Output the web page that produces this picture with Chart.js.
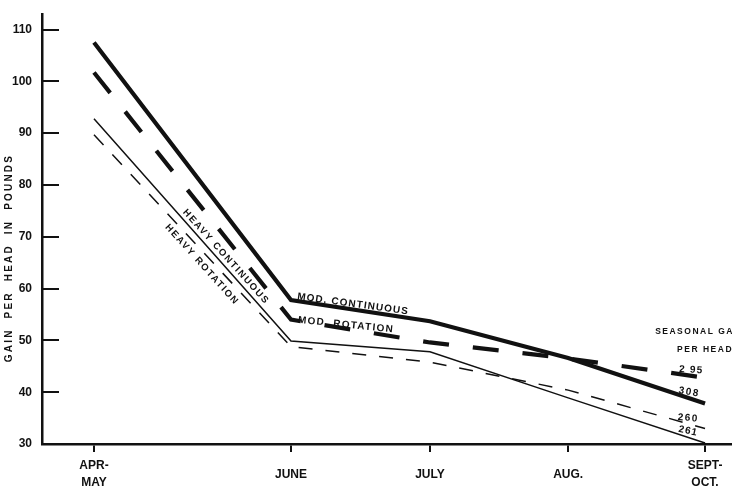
<!DOCTYPE html>
<html>
<head>
<meta charset="utf-8">
<script src="https://cdn.jsdelivr.net/npm/chart.js@4.4.0/dist/chart.umd.min.js"></script>
<style>
  html, body { margin: 0; padding: 0; background: #fff; overflow: hidden; }
  canvas { display: block; }
</style>
</head>
<body>
<canvas id="grafik" width="732" height="496"></canvas>
<script>
// periods along the grazing season, and where each sits on the time axis
const months = [["APR-", "MAY"], "JUNE", "JULY", "AUG.", ["SEPT-", "OCT."]];
const monthPos = [0, 1.425, 2.43, 3.43, 4.42];
const yTicks = [30, 40, 50, 60, 70, 80, 90, 100, 110];

// gain per head in pounds
const modContinuous = [107.5, 57.8, 53.7, 46.6, 37.8];
const modRotation = [101.7, 54.0, 49.6, 46.5, 42.8];
const heavyContinuous = [92.8, 49.9, 47.8, 38.9, 30.2];
const heavyRotation = [89.7, 48.8, 45.8, 40.4, 33.0];

// seasonal gain per head, written at the end of each line
const seasonal = ["2 95", "308", "260", "261"];

const INK = "#111";
const FONT = '"Liberation Sans", Arial, sans-serif';

const pts = (vals) => vals.map((v, i) => ({ x: monthPos[i], y: v }));

// text labels placed in data units: [text, x, y, angle, size, spacing, align]
const notes = [
  ["HEAVY CONTINUOUS", 0.955, 66.1, 48, 9.5, 1.6, "center"],
  ["HEAVY ROTATION", 0.781, 64.6, 48, 9.5, 1.6, "center"],
  ["MOD. CONTINUOUS", 1.874, 57.0, 7.8, 10, 1.1, "center"],
  ["MOD. ROTATION", 1.823, 53.0, 5.8, 10, 1.3, "center"],
  ["SEASONAL GAIN", 4.059, 51.6, 0, 8.5, 1.5, "left"],
  ["PER HEAD", 4.218, 48.2, 0, 8.5, 1.5, "left"],
  [seasonal[0], 4.32, 44.3, 3, 10, 1.2, "center"],
  [seasonal[1], 4.305, 40.0, 10, 10, 1.5, "center"],
  [seasonal[2], 4.298, 35.0, 5, 10, 1.5, "center"],
  [seasonal[3], 4.298, 32.5, 12, 10, 1.0, "center"],
];

const notesPlugin = {
  id: "notes",
  afterDraw(chart) {
    const { ctx, scales: { x, y }, chartArea } = chart;
    ctx.save();
    // inner tick marks on the value axis
    ctx.strokeStyle = INK;
    ctx.lineWidth = 2;
    yTicks.forEach((t) => {
      const py = Math.round(y.getPixelForValue(t));
      ctx.beginPath();
      ctx.moveTo(chartArea.left, py);
      ctx.lineTo(chartArea.left + 17, py);
      ctx.stroke();
    });

    ctx.fillStyle = INK;
    ctx.textBaseline = "middle";
    notes.forEach(([txt, xv, yv, ang, size, sp, align]) => {
      ctx.save();
      ctx.translate(x.getPixelForValue(xv), y.getPixelForValue(yv));
      ctx.rotate((ang * Math.PI) / 180);
      ctx.font = `bold ${size}px ${FONT}`;
      ctx.letterSpacing = sp + "px";
      ctx.textAlign = align;
      ctx.fillText(txt, 0, 0);
      ctx.restore();
    });

    // axis title
    ctx.save();
    ctx.translate(9, 258);
    ctx.rotate(-Math.PI / 2);
    ctx.font = `bold 10px ${FONT}`;
    ctx.letterSpacing = "2.2px";
    ctx.textAlign = "center";
    ctx.fillText("GAIN  PER  HEAD  IN  POUNDS", 0, 0);
    ctx.restore();
    ctx.restore();
  },
};

const line = (label, vals, width, dash) => ({
  label,
  data: pts(vals),
  borderColor: INK,
  borderWidth: width,
  borderDash: dash,
  borderCapStyle: "butt",
  borderJoinStyle: "miter",
  pointRadius: 0,
  tension: 0,
  fill: false,
});

new Chart(document.getElementById("grafik"), {
  type: "line",
  data: {
    datasets: [
      line("Mod. continuous", modContinuous, 4.2, []),
      line("Mod. rotation", modRotation, 4.2, [26, 24]),
      line("Heavy continuous", heavyContinuous, 1.5, []),
      line("Heavy rotation", heavyRotation, 1.5, [14, 13]),
    ],
  },
  options: {
    responsive: false,
    animation: false,
    devicePixelRatio: 1,
    layout: { padding: { left: 0, right: 0, top: 14, bottom: 0 } },
    plugins: { legend: { display: false }, tooltip: { enabled: false } },
    scales: {
      x: {
        type: "linear",
        min: -0.376,
        max: 4.615,
        afterBuildTicks: (s) => { s.ticks = monthPos.map((v) => ({ value: v })); },
        afterFit: (s) => { s.height = 52; s.paddingLeft = 0; s.paddingRight = 0; },
        ticks: {
          autoSkip: false,
          maxRotation: 0,
          padding: 14,
          crossAlign: "center",
          color: INK,
          font: { family: FONT, size: 12, weight: "bold", lineHeight: 1.4 },
          callback: (v, i) => months[i],
        },
        grid: { drawOnChartArea: false, drawTicks: true, tickLength: 8, color: INK, lineWidth: 2 },
        border: { display: true, color: INK, width: 2.5 },
      },
      y: {
        min: 30,
        max: 113,
        afterBuildTicks: (s) => { s.ticks = yTicks.map((v) => ({ value: v })); },
        afterFit: (s) => { s.width = 42; },
        ticks: {
          padding: 2,
          color: INK,
          font: { family: FONT, size: 12, weight: "bold" },
        },
        grid: { display: false },
        border: { display: true, color: INK, width: 2.5 },
      },
    },
  },
  plugins: [notesPlugin],
});
</script>
</body>
</html>
